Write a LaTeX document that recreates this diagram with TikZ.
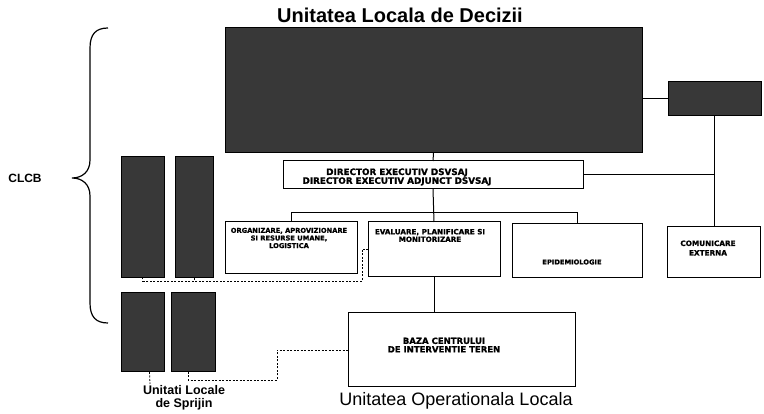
\documentclass[tikz,border=0pt]{standalone}
\usepackage{fontspec}
\setmainfont{Liberation Sans}
\newfontfamily\dvfont{DejaVu Sans}[BoldFeatures={FakeBold=1.2}]
\begin{document}
\begin{tikzpicture}[x=1pt,y=-1pt,
  dark/.style={draw=black, fill=black!78, line width=1pt, inner sep=0pt, outer sep=0pt, anchor=north west},
  wbox/.style={draw=black, fill=white, line width=1pt, inner sep=0pt, outer sep=0pt, anchor=north west},
  conn/.style={line width=1pt},
  dconn/.style={line width=0.8pt, dash pattern=on 2pt off 1.5pt},
  btxt/.style={font=\dvfont\bfseries\fontsize{6.7}{7.6}\selectfont, align=center, inner sep=0pt},
]
\useasboundingbox (0,0) rectangle (764,414);

% dark boxes
\node[dark, minimum width=417pt, minimum height=125pt] (ULD) at (225,28) {};
\node[dark, minimum width=93pt, minimum height=34pt] (RD) at (668,82) {};
\node[dark, minimum width=43pt, minimum height=121pt] (S1) at (121,157) {};
\node[dark, minimum width=38pt, minimum height=121pt] (S2) at (175,157) {};
\node[dark, minimum width=43pt, minimum height=79pt] (S3) at (121,293) {};
\node[dark, minimum width=44pt, minimum height=79pt] (S4) at (171,293) {};

% white boxes
\node[wbox, minimum width=300pt, minimum height=28pt] (DIR) at (283,161) {};
\node[wbox, minimum width=132pt, minimum height=52pt] (ORG) at (225,222) {};
\node[wbox, minimum width=132pt, minimum height=55pt] (EVA) at (368,222) {};
\node[wbox, minimum width=130pt, minimum height=54pt] (EPI) at (512,224) {};
\node[wbox, minimum width=93pt, minimum height=51pt] (COM) at (667,227) {};
\node[wbox, minimum width=227pt, minimum height=74pt] (BAZA) at (348,313) {};

% box texts
\node[btxt, font=\dvfont\bfseries\fontsize{8.8}{8.8}\selectfont] (tdir) at (397,177) {DIRECTOR EXECUTIV DSVSAJ\\DIRECTOR EXECUTIV ADJUNCT DSVSAJ};
\node[btxt] (torg) at (289,238) {ORGANIZARE, APROVIZIONARE\\SI RESURSE UMANE,\\LOGISTICA};
\node[btxt, font=\dvfont\bfseries\fontsize{7.2}{7.6}\selectfont] (teva) at (430,235.5) {EVALUARE, PLANIFICARE SI\\MONITORIZARE};
\node[btxt] (tepi) at (572,262) {EPIDEMIOLOGIE};
\node[btxt, font=\dvfont\bfseries\fontsize{7.3}{9.5}\selectfont] (tcom) at (708,248) {COMUNICARE\\EXTERNA};
\node[btxt, font=\dvfont\bfseries\fontsize{8.5}{8.5}\selectfont] (tbaz) at (444,345) {BAZA CENTRULUI\\DE INTERVENTIE TEREN};

% labels
\node[font=\bfseries\fontsize{20}{22}\selectfont, inner sep=0pt] (t1) at (400,15) {Unitatea Locala de Decizii};
\node[font=\fontsize{18}{20}\selectfont, inner sep=0pt] (t2) at (456,401) {Unitatea Operationala Locala};
\node[font=\bfseries\fontsize{12.5}{12.5}\selectfont, align=center, inner sep=0pt] (t3) at (184,398) {Unitati Locale\\de Sprijin};
\node[font=\bfseries\fontsize{12}{12}\selectfont, inner sep=0pt] (t4) at (25,178) {CLCB};

% brace
\draw[line width=1.2pt] (108,28) .. controls (96,28) and (90,34) .. (90,48) -- (90,160)
  .. controls (90,172) and (82,178) .. (72,178)
  .. controls (82,178) and (90,184) .. (90,196) -- (90,303)
  .. controls (90,317) and (96,323) .. (108,323);

% solid connectors
\coordinate (hy) at (433,213);
\draw[conn] (ULD.east |- RD.west) -- (RD.west);
\draw[conn] (ULD.south) -- (DIR.north);
\draw[conn] (DIR.south) -- (EVA.north);
\draw[conn] (ORG.north) -- (ORG.north |- hy) -- (EPI.north |- hy) -- (EPI.north);
\draw[conn] (RD.south) -- (RD.south |- COM.north);
\draw[conn] (DIR.east) -- (DIR.east -| RD.south);
\draw[conn] (EVA.south) -- (EVA.south |- BAZA.north);

% dashed connectors
\coordinate (dy) at (0,249);
\coordinate (d2) at (362,281);
\draw[dconn] (EVA.west |- dy) -| (d2) -- (S1.south |- d2) -- (S1.south);
\draw[dconn] (S2.south) -- (S2.south |- d2);
\coordinate (e1) at (277,380);
\draw[dconn] ([xshift=-5pt]S4.south) -- ([xshift=-5pt]S4.south |- e1) -- (e1) |- (BAZA.west);
\coordinate (e2) at (150,384);
\draw[dconn] ([xshift=7pt]S3.south) -- (e2);
\end{tikzpicture}
\end{document}
